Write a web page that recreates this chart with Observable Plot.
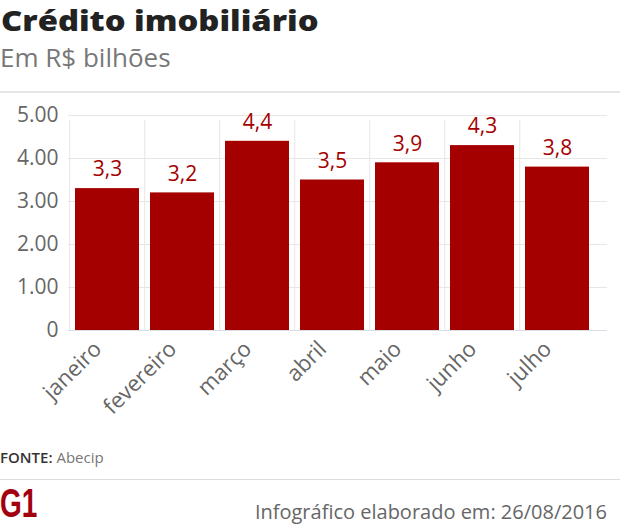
<!DOCTYPE html>
<html><head><meta charset="utf-8">
<script src="https://cdn.jsdelivr.net/npm/d3@7"></script>
<script src="https://cdn.jsdelivr.net/npm/@observablehq/plot@0.6"></script>
<style>
body{margin:0;background:#fff;font-family:"Open Sans",sans-serif;}
#wrap{position:relative;width:620px;height:526px;overflow:hidden;}
.abs{position:absolute;white-space:nowrap;line-height:1;}
#title{left:1px;top:1px;font-size:28px;line-height:normal;font-weight:800;color:#222;transform:scaleX(1.17);transform-origin:0 0;}
#sub{left:0;top:44px;font-size:26px;color:#777;}
#hr1{left:0;top:91px;width:620px;height:2px;background:#e6e6e6;}
#chart{left:0;top:95px;}
#src{left:0;top:450px;font-size:15px;color:#777;}
#src b{color:#333;font-weight:600;}
#hr2{left:0;top:479px;width:620px;height:1px;background:#dcdcdc;}
#logo{left:0;top:481px;font-family:"Liberation Sans",sans-serif;font-weight:700;font-size:40px;line-height:normal;color:#a3000f;transform:scaleX(0.7);transform-origin:0 0;}
#credit{right:13px;top:502px;font-size:20px;color:#666;}
</style></head>
<body><div id="wrap">
<div class="abs" id="title">Crédito imobiliário</div>
<div class="abs" id="sub">Em R$ bilhões</div>
<div class="abs" id="hr1"></div>
<div class="abs" id="chart"></div>
<div class="abs" id="src"><b>FONTE:</b> Abecip</div>
<div class="abs" id="hr2"></div>
<div class="abs" id="logo">G1</div>
<div class="abs" id="credit">Infográfico elaborado em: 26/08/2016</div>
</div>
<script>
const months = ["janeiro","fevereiro","março","abril","maio","junho","julho"];
const values = [3.3, 3.2, 4.4, 3.5, 3.9, 4.3, 3.8];
const labels = ["3,3","3,2","4,4","3,5","3,9","4,3","3,8"];
const yTicks = [0, 1, 2, 3, 4, 5];
const yTickLabels = ["0","1.00","2.00","3.00","4.00","5.00"];

const data = months.map((m, i) => ({month: m, value: values[i], label: labels[i]}));

const W = 620, H = 340, mL = 68, mR = 13, mT = 20, mB = 105, insetR = 10.5;
const step = (W - mL - mR - insetR) / months.length;

const chart = Plot.plot({
  width: W, height: H,
  marginLeft: mL, marginRight: mR, marginTop: mT, marginBottom: mB,
  style: {fontFamily: "'Open Sans', sans-serif", background: "#fff", overflow: "visible"},
  x: {domain: months, paddingInner: 0.15, paddingOuter: 0.075, insetRight: insetR, label: null, axis: null},
  y: {domain: [0, 5], label: null},
  marks: [
    Plot.ruleY(yTicks.filter(d => d > 0), {stroke: "#e6e6e6", strokeWidth: 1}),
    Plot.ruleX(months, {x: d => d, dx: -step / 2, y1: 0, y2: 5, stroke: "#e6e6e6", strokeWidth: 1, insetBottom: -5}),
    Plot.ruleY([0], {stroke: "#d8dde6", strokeWidth: 1}),
    Plot.barY(data, {x: "month", y: "value", fill: "#a50000"}),
    Plot.text(data, {x: "month", y: "value", text: "label", dy: -19, fill: "#a50000", fontSize: 21}),
    Plot.axisY(yTicks, {tickFormat: (d) => yTickLabels[yTicks.indexOf(d)], tickSize: 0, tickPadding: 10, fontSize: 21, fill: "#666", label: null}),
    Plot.text(months, {x: d => d, y: 0, text: d => d, rotate: -45, textAnchor: "end", lineAnchor: "middle", dx: -9.7, dy: 14.9, fontSize: 22, fill: "#666"})
  ]
});
document.getElementById("chart").appendChild(chart);
</script>
</body></html>
